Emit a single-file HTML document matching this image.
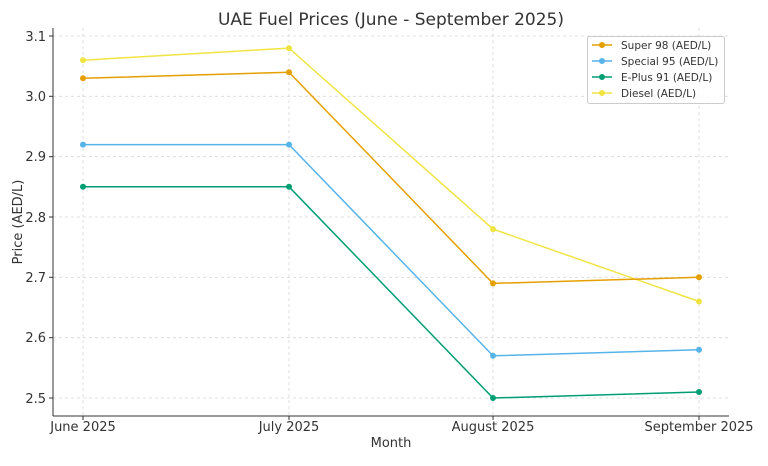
<!DOCTYPE html><html><head><style>body{margin:0;background:#fff}</style></head><body>
<svg width="768" height="461" xmlns="http://www.w3.org/2000/svg" font-family="DejaVu Sans, Liberation Sans, sans-serif">
<rect width="768" height="461" fill="#fff"/>
<text x="391" y="25" text-anchor="middle" font-size="17" fill="#333">UAE Fuel Prices (June - September 2025)</text>
<g stroke="#d8d8d8" stroke-dasharray="3,3" stroke-width="0.8">
<line x1="53" x2="729" y1="36" y2="36"/><line x1="53" x2="729" y1="96.3" y2="96.3"/><line x1="53" x2="729" y1="156.7" y2="156.7"/><line x1="53" x2="729" y1="217" y2="217"/><line x1="53" x2="729" y1="277.3" y2="277.3"/><line x1="53" x2="729" y1="337.7" y2="337.7"/><line x1="53" x2="729" y1="398" y2="398"/>
<line x1="83" x2="83" y1="28" y2="416"/><line x1="289" x2="289" y1="28" y2="416"/><line x1="493" x2="493" y1="28" y2="416"/><line x1="699" x2="699" y1="28" y2="416"/>
</g>
<g stroke="#333" stroke-width="1"><line x1="53" y1="28" x2="53" y2="416"/><line x1="53" y1="416" x2="729" y2="416"/>
<line x1="49" x2="53" y1="36" y2="36"/><line x1="49" x2="53" y1="96.3" y2="96.3"/><line x1="49" x2="53" y1="156.7" y2="156.7"/><line x1="49" x2="53" y1="217" y2="217"/><line x1="49" x2="53" y1="277.3" y2="277.3"/><line x1="49" x2="53" y1="337.7" y2="337.7"/><line x1="49" x2="53" y1="398" y2="398"/>
<line x1="83" x2="83" y1="416" y2="420"/><line x1="289" x2="289" y1="416" y2="420"/><line x1="493" x2="493" y1="416" y2="420"/><line x1="699" x2="699" y1="416" y2="420"/></g>
<g font-size="13" fill="#333" text-anchor="end"><text x="46" y="41">3.1</text><text x="46" y="101">3.0</text><text x="46" y="161">2.9</text><text x="46" y="222">2.8</text><text x="46" y="282">2.7</text><text x="46" y="342">2.6</text><text x="46" y="403">2.5</text></g>
<g font-size="13" fill="#333" text-anchor="middle"><text x="83" y="431">June 2025</text><text x="289" y="431">July 2025</text><text x="493" y="431">August 2025</text><text x="699" y="431">September 2025</text>
<text x="391" y="447">Month</text><text transform="translate(22,222) rotate(-90)">Price (AED/L)</text></g>
<g fill="none" stroke-width="1.5">
<polyline stroke="#f0e442" points="83,60.2 289,48.1 493,229.1 699,301.5"/>
<polyline stroke="#e69f00" points="83,78.3 289,72.2 493,283.4 699,277.3"/>
<polyline stroke="#56b4e9" points="83,144.6 289,144.6 493,355.8 699,349.7"/>
<polyline stroke="#009e73" points="83,186.8 289,186.8 493,398 699,392"/>
</g>
<g fill="#f0e442"><circle cx="83" cy="60.2" r="3"/><circle cx="289" cy="48.1" r="3"/><circle cx="493" cy="229.1" r="3"/><circle cx="699" cy="301.5" r="3"/></g>
<g fill="#e69f00"><circle cx="83" cy="78.3" r="3"/><circle cx="289" cy="72.2" r="3"/><circle cx="493" cy="283.4" r="3"/><circle cx="699" cy="277.3" r="3"/></g>
<g fill="#56b4e9"><circle cx="83" cy="144.6" r="3"/><circle cx="289" cy="144.6" r="3"/><circle cx="493" cy="355.8" r="3"/><circle cx="699" cy="349.7" r="3"/></g>
<g fill="#009e73"><circle cx="83" cy="186.8" r="3"/><circle cx="289" cy="186.8" r="3"/><circle cx="493" cy="398" r="3"/><circle cx="699" cy="392" r="3"/></g>
<rect x="587.5" y="36.5" width="137" height="67" fill="#fff" fill-opacity="0.85" stroke="#ccc" rx="2"/>
<g stroke-width="1.5"><line x1="592" x2="612" y1="45" y2="45" stroke="#e69f00"/><line x1="592" x2="612" y1="61" y2="61" stroke="#56b4e9"/><line x1="592" x2="612" y1="77" y2="77" stroke="#009e73"/><line x1="592" x2="612" y1="93" y2="93" stroke="#f0e442"/></g>
<circle cx="602" cy="45" r="3" fill="#e69f00"/><circle cx="602" cy="61" r="3" fill="#56b4e9"/><circle cx="602" cy="77" r="3" fill="#009e73"/><circle cx="602" cy="93" r="3" fill="#f0e442"/>
<g font-size="10.5" fill="#333"><text x="621" y="49">Super 98 (AED/L)</text><text x="621" y="65">Special 95 (AED/L)</text><text x="621" y="81">E-Plus 91 (AED/L)</text><text x="621" y="97">Diesel (AED/L)</text></g>
</svg></body></html>
